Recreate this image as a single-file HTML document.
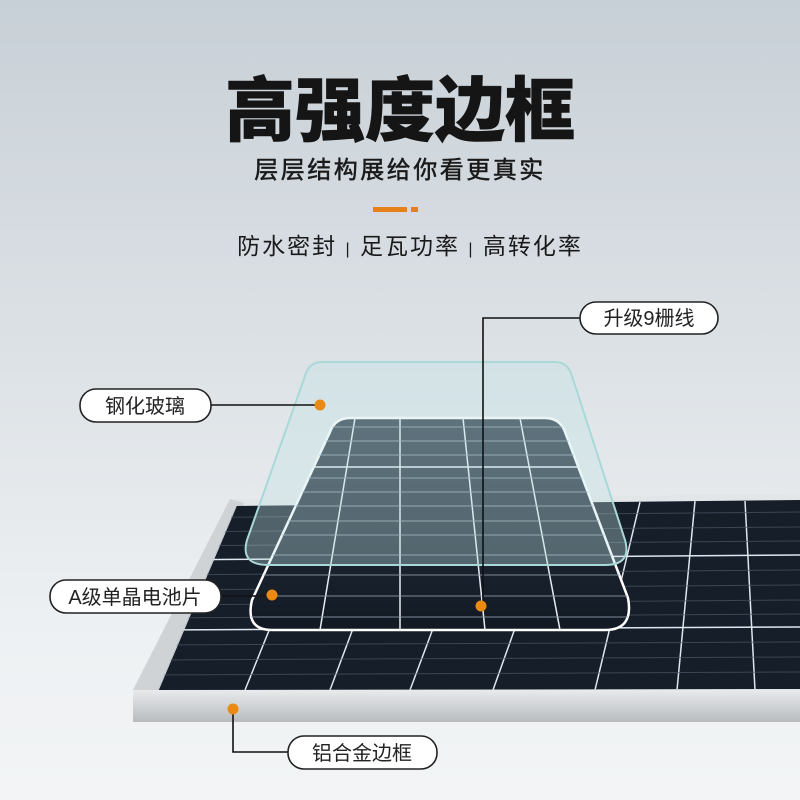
<!DOCTYPE html>
<html><head><meta charset="utf-8"><style>
html,body{margin:0;padding:0;width:800px;height:800px;overflow:hidden}
body{background:linear-gradient(#c8d0d7 0%,#dde2e6 45%,#eef1f3 80%,#f2f4f5 100%);font-family:"Liberation Sans","Noto Sans CJK SC",sans-serif}
</style></head><body>
<svg width="800" height="800" viewBox="0 0 800 800" xmlns="http://www.w3.org/2000/svg" style="position:absolute;left:0;top:0">
<defs>
<linearGradient id="frame" x1="0" y1="0" x2="0" y2="1"><stop offset="0" stop-color="#e8eaec"/><stop offset="1" stop-color="#b9bcbf"/></linearGradient>
<linearGradient id="cells" x1="0" y1="0" x2="0" y2="1"><stop offset="0" stop-color="#2a3745"/><stop offset="1" stop-color="#121923"/></linearGradient>
<clipPath id="pc"><polygon points="236,506 800,500 800,689 158,690"/></clipPath>
<clipPath id="sc"><path d="M350,418 L545,418 Q560,418 565,432 L628,598 Q634,630 605,630 L272,630 Q245,630 252,600 L330,432 Q335,418 350,418Z"/></clipPath>
</defs>
<polygon points="230,499 800,494 800,690 133,690" fill="#e3e6e8"/>
<polygon points="133,690 800,690 800,722 133,722" fill="url(#frame)"/>
<polygon points="230,499 244,503 162,690 133,690" fill="#cfd3d6"/>
<polygon points="236,506 800,500 800,689 158,690" fill="#161e29"/>
<g clip-path="url(#pc)" stroke="#dfe6ee" stroke-width="1.5">
<line x1="236" y1="506" x2="158" y2="690"/>
<line x1="320" y1="504" x2="245" y2="690"/><line x1="400" y1="503" x2="330" y2="690"/>
<line x1="480" y1="503" x2="410" y2="690"/><line x1="560" y1="502" x2="493" y2="690"/>
<line x1="640" y1="502" x2="595" y2="690"/><line x1="695" y1="501" x2="677" y2="690"/>
<line x1="745" y1="501" x2="755" y2="690"/>
<line x1="150" y1="630" x2="800" y2="627"/><line x1="150" y1="560" x2="800" y2="555"/>
</g>
<g clip-path="url(#pc)" stroke="#4a5868" stroke-width="1" opacity="0.7">
<line x1="150" y1="518" x2="800" y2="512"/><line x1="150" y1="532" x2="800" y2="527"/><line x1="150" y1="546" x2="800" y2="541"/>
<line x1="150" y1="575" x2="800" y2="570"/><line x1="150" y1="590" x2="800" y2="585"/><line x1="150" y1="605" x2="800" y2="600"/><line x1="150" y1="618" x2="800" y2="614"/>
<line x1="150" y1="645" x2="800" y2="642"/><line x1="150" y1="660" x2="800" y2="657"/><line x1="150" y1="675" x2="800" y2="672"/>
</g>
<path d="M350,418 L545,418 Q560,418 565,432 L628,598 Q634,630 605,630 L272,630 Q245,630 252,600 L330,432 Q335,418 350,418Z" fill="url(#cells)" stroke="#ffffff" stroke-width="2.5"/>
<g clip-path="url(#sc)">
<g stroke="#e6edf3" stroke-width="1.5">
<line x1="400" y1="418" x2="400" y2="630"/><line x1="463" y1="418" x2="485" y2="630"/>
<line x1="355" y1="418" x2="320" y2="630"/><line x1="520" y1="418" x2="560" y2="630"/>
<line x1="240" y1="467" x2="640" y2="467"/>
</g>
<g stroke="#8d9aa8" stroke-width="1.2" opacity="0.7">
<line x1="240" y1="427" x2="640" y2="427"/><line x1="240" y1="441" x2="640" y2="441"/><line x1="240" y1="455" x2="640" y2="455"/>
<line x1="240" y1="478" x2="640" y2="478"/><line x1="240" y1="492" x2="640" y2="492"/><line x1="240" y1="506" x2="640" y2="506"/>
<line x1="240" y1="521" x2="640" y2="521"/><line x1="240" y1="535" x2="640" y2="535"/><line x1="240" y1="555" x2="640" y2="555"/>
<line x1="240" y1="575" x2="640" y2="575"/><line x1="240" y1="596" x2="640" y2="596"/><line x1="240" y1="617" x2="640" y2="617"/>
</g>
</g>
<path d="M322,362 L555,362 Q568,362 572,376 L625,540 Q632,565 605,565 L268,565 Q240,565 247,540 L305,376 Q309,362 322,362Z" fill="#bfe3e6" fill-opacity="0.35" stroke="#a9d8d8" stroke-width="2"/>
<g stroke="#111" stroke-width="1.6" fill="none">
<line x1="210" y1="405" x2="320" y2="405"/>
<polyline points="580,318 483,318 483,606"/>
<line x1="220" y1="596" x2="272" y2="596"/>
<polyline points="233,709 233,752 288,752"/>
</g>
<g fill="#ea8a12">
<circle cx="320" cy="405" r="5.5"/><circle cx="481" cy="606" r="5.5"/><circle cx="272" cy="595" r="5.5"/><circle cx="233" cy="709" r="5.5"/>
</g>
<g fill="#fff" stroke="#222" stroke-width="1.6">
<rect x="80" y="389" width="131" height="33" rx="16"/>
<rect x="580" y="302" width="138" height="32" rx="16"/>
<rect x="50" y="580" width="171" height="33" rx="16"/>
<rect x="288" y="736" width="149" height="33" rx="16"/>
</g>
<g font-family="Liberation Sans, Noto Sans CJK SC, sans-serif" font-size="20" fill="#222" text-anchor="middle">
<text x="145" y="413">钢化玻璃</text>
<text x="649" y="325">升级9栅线</text>
<text x="135" y="604">A级单晶电池片</text>
<text x="362" y="760">铝合金边框</text>
</g>
<text x="400" y="135" text-anchor="middle" font-family="Liberation Sans, Noto Sans CJK SC, sans-serif" font-size="70" font-weight="900" fill="#151515" stroke="#151515" stroke-width="0.6">高强度边框</text>
<text x="400" y="178" text-anchor="middle" font-family="Liberation Sans, Noto Sans CJK SC, sans-serif" font-size="24" letter-spacing="2.5" fill="#1a1a1a" stroke="#1a1a1a" stroke-width="0.5">层层结构展给你看更真实</text>
<rect x="373" y="207" width="34" height="5" fill="#e5801a"/><rect x="411" y="207" width="7" height="5" fill="#e5801a"/>
<text x="410" y="254" text-anchor="middle" font-family="Liberation Sans, Noto Sans CJK SC, sans-serif" font-size="23" letter-spacing="2" fill="#1a1a1a">防水密封 <tspan font-size="16">|</tspan> 足瓦功率 <tspan font-size="16">|</tspan> 高转化率</text>
</svg>
</body></html>
